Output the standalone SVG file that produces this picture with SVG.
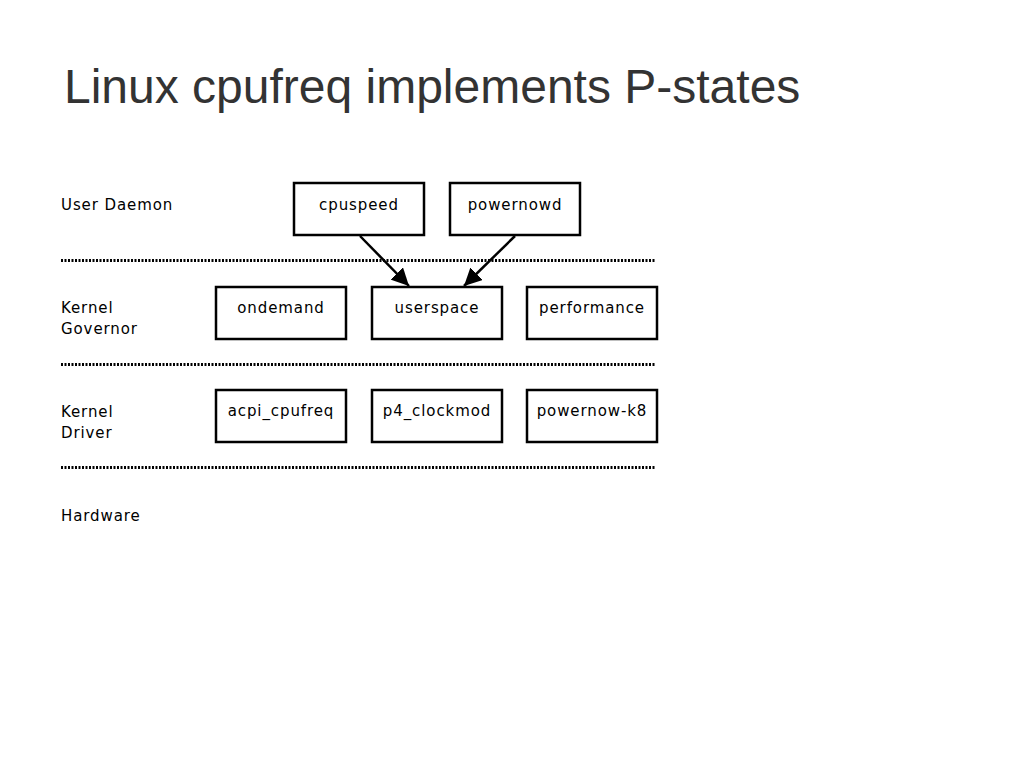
<svg xmlns="http://www.w3.org/2000/svg" width="1024" height="768" viewBox="0 0 1024 768">
<style>
.title{font-family:"Liberation Sans",Arial,sans-serif;font-size:48px;fill:#333333}
.lbl{font-family:"DejaVu Sans",sans-serif;font-size:15px;letter-spacing:0.9px;fill:#000}
.box{fill:#fff;stroke:#000;stroke-width:2.5}
.sep{stroke:#000;stroke-width:3;stroke-dasharray:2 1.5;fill:none}
.edge{stroke:#000;stroke-width:2.5;fill:none}
</style>
<defs>
<marker id="ah" viewBox="0 0 10 10" refX="10" refY="5" markerWidth="7" markerHeight="7" orient="auto" markerUnits="strokeWidth">
<path d="M0,0 L10,5 L0,10 z" fill="#000"/>
</marker>
</defs>
<rect width="1024" height="768" fill="#fff"/>
<text class="title" x="64" y="103">Linux cpufreq implements P-states</text>
<g id="layers">
<text class="lbl" x="61" y="210">User Daemon</text>
<text class="lbl" x="61" y="313">Kernel</text>
<text class="lbl" x="61" y="334">Governor</text>
<text class="lbl" x="61" y="417">Kernel</text>
<text class="lbl" x="61" y="438">Driver</text>
<text class="lbl" x="61" y="521">Hardware</text>
<line class="sep" x1="61" y1="260.5" x2="655" y2="260.5"/>
<line class="sep" x1="61" y1="364.5" x2="655" y2="364.5"/>
<line class="sep" x1="61" y1="467.5" x2="655" y2="467.5"/>
</g>
<g id="cpuspeed"><rect class="box" x="294" y="183" width="130" height="52"/><text class="lbl" x="359" y="210" text-anchor="middle">cpuspeed</text></g>
<g id="powernowd"><rect class="box" x="450" y="183" width="130" height="52"/><text class="lbl" x="515" y="210" text-anchor="middle">powernowd</text></g>
<g id="ondemand"><rect class="box" x="216" y="287" width="130" height="52"/><text class="lbl" x="281" y="313" text-anchor="middle">ondemand</text></g>
<g id="userspace"><rect class="box" x="372" y="287" width="130" height="52"/><text class="lbl" x="437" y="313" text-anchor="middle">userspace</text></g>
<g id="performance"><rect class="box" x="527" y="287" width="130" height="52"/><text class="lbl" x="592" y="313" text-anchor="middle">performance</text></g>
<g id="acpi_cpufreq"><rect class="box" x="216" y="390" width="130" height="52"/><text class="lbl" x="281" y="416" text-anchor="middle">acpi_cpufreq</text></g>
<g id="p4_clockmod"><rect class="box" x="372" y="390" width="130" height="52"/><text class="lbl" x="437" y="416" text-anchor="middle">p4_clockmod</text></g>
<g id="powernow-k8"><rect class="box" x="527" y="390" width="130" height="52"/><text class="lbl" x="592" y="416" text-anchor="middle">powernow-k8</text></g>
<g id="connectors">
<line class="edge" x1="360" y1="236" x2="409" y2="286" marker-end="url(#ah)"/>
<line class="edge" x1="515" y1="236" x2="464" y2="286" marker-end="url(#ah)"/>
</g>
</svg>
